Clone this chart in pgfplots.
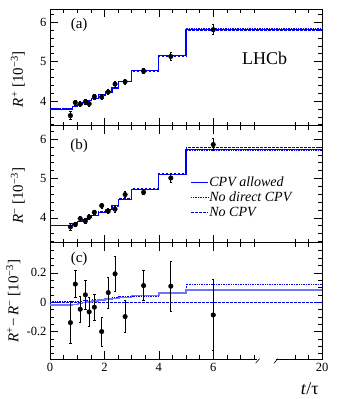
\documentclass[border=0pt]{standalone}
\usepackage{fontspec}
\setmainfont{Liberation Serif}
\usepackage{pgfplots}
\pgfplotsset{compat=1.18}
\begin{document}
\begin{tikzpicture}
\pgfplotsset{
  panel/.style={
    scale only axis, width=272pt, height=116.8pt,
    xmin=0, xmax=10,
    xtick={0,2,4,6,10},
    minor xtick={0.5,1,1.5,2.5,3,3.5,4.5,5,5.5,6.5,7,7.5,9,9.5},
    xtick pos=both, ytick pos=both, tick align=inside,
    major tick length=8pt, minor tick length=4pt,
    every tick/.style={black, line width=0.5pt},
    axis line style={line width=0.7pt},
    tick label style={font=\fontsize{12.5}{15}\selectfont},
    /pgf/number format/assume math mode=true,
    every axis y label/.style={at={(axis description cs:-0.118,0.40)}, rotate=90, anchor=center, font=\fontsize{15}{18}\selectfont},
  },
  abpanel/.style={
    ymin=3.37, ymax=6.335,
    ytick={4,5,6}, yticklabels={4,5,6},
    minor ytick={3.4,3.6,3.8,4.2,4.4,4.6,4.8,5.2,5.4,5.6,5.8,6.2},
    xticklabels={},
  },
  modsolid/.style={const plot, blue, line width=1.1pt, forget plot},
  moddot/.style={const plot, blue, line width=0.8pt, dash pattern=on 0.8pt off 0.9pt},
  moddash/.style={const plot, blue!90!black, line width=0.9pt, dash pattern=on 2.6pt off 1.4pt},
  dat/.style={forget plot, only marks, black, mark=*, mark size=2.3pt, mark options={fill=black},
    error bars/.cd, y dir=both, y explicit,
    error bar style={black, line width=0.8pt},
    error mark options={rotate=90, mark size=1.2pt, black, line width=0.8pt}},
}

% ---------------- panel (a) ----------------
\begin{axis}[panel, abpanel, at={(0pt,233.6pt)}, anchor=south west,
  ylabel={\textit{R}\textsuperscript{+} [10\textsuperscript{−3}]}]
\addplot[moddash, forget plot] coordinates {(0,3.80) (0.82,3.858) (1.02,3.904) (1.20,3.961) (1.37,4.009) (1.53,4.066) (1.77,4.153) (2.03,4.22) (2.28,4.317) (2.53,4.484) (3,4.748) (4,5.13) (5,5.778) (10,5.778)};
\addplot[moddot, forget plot] coordinates {(0,3.801) (0.82,3.860) (1.02,3.908) (1.20,3.966) (1.37,4.016) (1.53,4.074) (1.77,4.164) (2.03,4.233) (2.28,4.332) (2.53,4.502) (3,4.769) (4,5.16) (5,5.84) (10,5.84)};
\addplot[modsolid] coordinates {(0,3.79) (0.82,3.85) (1.02,3.90) (1.20,3.96) (1.37,4.01) (1.53,4.07) (1.77,4.16) (2.03,4.23) (2.28,4.33) (2.53,4.50) (3,4.77) (4,5.16) (5,5.82) (10,5.82)};
\addplot[dat] coordinates {
 (0.75,3.63) +- (0,0.10)
 (0.93,3.96) +- (0,0.06)
 (1.11,3.92) +- (0,0.06)
 (1.30,3.98) +- (0,0.06)
 (1.44,3.93) +- (0,0.06)
 (1.63,4.11) +- (0,0.06)
 (1.90,4.10) +- (0,0.06)
 (2.14,4.23) +- (0,0.065)
 (2.39,4.43) +- (0,0.08)
 (2.76,4.49) +- (0,0.07)
 (3.44,4.76) +- (0,0.065)
 (4.44,5.13) +- (0,0.11)
 (6.00,5.81) +- (0,0.125)
};
\node[font=\fontsize{15}{18}\selectfont] at (axis description cs:0.107,0.868) {(a)};
\node[font=\fontsize{18}{21}\selectfont] at (axis description cs:0.789,0.577) {LHCb};
\end{axis}

% ---------------- panel (b) ----------------
\begin{axis}[panel, abpanel, at={(0pt,116.8pt)}, anchor=south west,
  ylabel={\textit{R}\textsuperscript{−} [10\textsuperscript{−3}]},
  legend style={at={(axis description cs:0.505,0.59)}, anchor=north west, draw=none, fill=none,
    font=\fontsize{14}{15}\selectfont\itshape, row sep=3pt,
    nodes={inner sep=0.6pt}},
  legend cell align=left]
\addplot[const plot, blue, line width=1.1pt] coordinates {(0,3.81) (0.82,3.865) (1.02,3.908) (1.20,3.962) (1.37,4.007) (1.53,4.062) (1.77,4.145) (2.03,4.21) (2.28,4.304) (2.53,4.467) (3,4.725) (4,5.099) (5,5.736) (10,5.736)};
\addlegendentry{CPV allowed}
\addplot[moddot] coordinates {(0,3.799) (0.82,3.855) (1.02,3.900) (1.20,3.955) (1.37,4.002) (1.53,4.057) (1.77,4.142) (2.03,4.207) (2.28,4.302) (2.53,4.466) (3,4.727) (4,5.10) (5,5.717) (10,5.717)};
\addlegendentry{No direct CPV}
\addplot[moddash] coordinates {(0,3.80) (0.82,3.858) (1.02,3.904) (1.20,3.961) (1.37,4.009) (1.53,4.066) (1.77,4.153) (2.03,4.22) (2.28,4.317) (2.53,4.484) (3,4.748) (4,5.13) (5,5.778) (10,5.778)};
\addlegendentry{No CPV}
\addplot[dat] coordinates {
 (0.75,3.77) +- (0,0.08)
 (0.93,3.83) +- (0,0.06)
 (1.11,3.98) +- (0,0.06)
 (1.30,3.92) +- (0,0.06)
 (1.44,4.02) +- (0,0.06)
 (1.63,4.14) +- (0,0.06)
 (1.90,4.31) +- (0,0.065)
 (2.14,4.17) +- (0,0.065)
 (2.39,4.22) +- (0,0.08)
 (2.76,4.59) +- (0,0.07)
 (3.44,4.65) +- (0,0.065)
 (4.44,5.01) +- (0,0.12)
 (6.00,5.86) +- (0,0.16)
};
\node[font=\fontsize{15}{18}\selectfont] at (axis description cs:0.107,0.83) {(b)};
\end{axis}

% ---------------- panel (c) ----------------
\begin{axis}[panel, at={(0pt,0pt)}, anchor=south west,
  ymin=-0.39, ymax=0.405,
  ytick={-0.2,0,0.2}, yticklabels={-0.2,0,0.2},
  minor ytick={-0.35,-0.3,-0.25,-0.15,-0.1,-0.05,0.05,0.1,0.15,0.25,0.3,0.35},
  xticklabels={0,2,4,6,20},
  every axis y label/.style={at={(axis description cs:-0.135,0.5)}, rotate=90, anchor=center, font=\fontsize{15}{18}\selectfont},
  ylabel={\textit{R}\textsuperscript{+}−\,\textit{R}\textsuperscript{−} [10\textsuperscript{−3}]},
  xlabel={\textit{t}/τ},
  every axis x label/.style={at={(axis description cs:1,0)}, anchor=base east, yshift=-35.5pt, font=\fontsize{18}{21}\selectfont}]
\addplot[moddash, forget plot] coordinates {(0,0) (10,0)};
\addplot[moddot, forget plot] coordinates {(0,0.002) (0.82,0.005) (1.02,0.008) (1.2,0.011) (1.37,0.014) (1.53,0.017) (1.77,0.022) (2.03,0.026) (2.28,0.03) (2.53,0.036) (3,0.042) (4,0.06) (5,0.123) (10,0.123)};
\addplot[const plot, blue!55, line width=1.6pt, forget plot] coordinates {(0,-0.02) (0.82,-0.015) (1.02,-0.008) (1.20,-0.002) (1.37,0.003) (1.53,0.008) (1.77,0.015) (2.03,0.02) (2.28,0.026) (2.53,0.033) (3,0.045) (4,0.061) (5,0.084) (10,0.084)};
\addplot[dat] coordinates {
 (0.75,-0.139) +- (0,0.141)
 (0.93,0.123) +- (0,0.093)
 (1.11,-0.048) +- (0,0.087)
 (1.30,0.050) +- (0,0.10)
 (1.44,-0.066) +- (0,0.10)
 (1.63,-0.034) +- (0,0.087)
 (1.90,-0.200) +- (0,0.098)
 (2.14,0.065) +- (0,0.106)
 (2.39,0.193) +- (0,0.12)
 (2.76,-0.098) +- (0,0.107)
 (3.44,0.113) +- (0,0.10)
 (4.44,0.109) +- (0,0.17)
 (6.00,-0.087) +- (0,0.24)
};
\node[font=\fontsize{15}{18}\selectfont] at (axis description cs:0.107,0.865) {(c)};
\end{axis}

% axis break on the bottom axis of panel (c)
\fill[white] (206.5pt,-1pt) rectangle (226.3pt,1pt);
\draw[black, line width=0.6pt] (205.5pt,-3.8pt) -- (209.5pt,0.8pt);
\draw[black, line width=0.6pt] (223.8pt,-3.8pt) -- (227.8pt,0.8pt);

\pgfresetboundingbox
\path[use as bounding box] (-50pt,-39.5pt) rectangle (304pt,359.4pt);
\end{tikzpicture}
\end{document}
